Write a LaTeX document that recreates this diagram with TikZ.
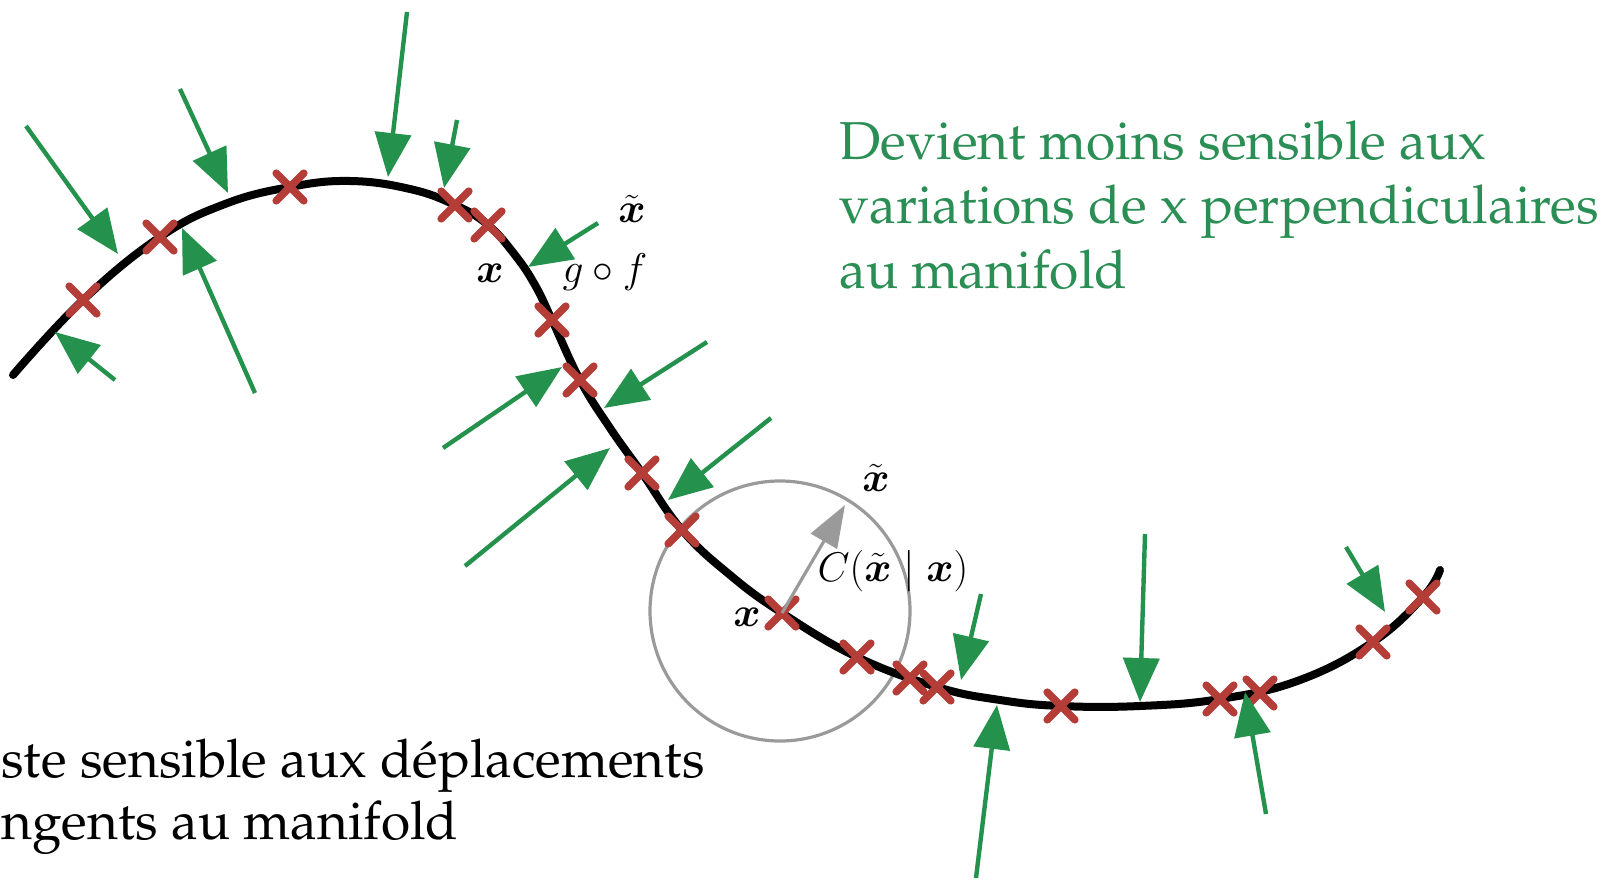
\documentclass[tikz,border=0pt]{standalone}
\usepackage{amsmath,amssymb}
\usepackage[T1,TU]{fontenc}
\usepackage{tikz}
\usetikzlibrary{arrows.meta,shapes.misc}
\newcommand{\palafont}{\fontencoding{T1}\fontfamily{ppl}\selectfont}

\begin{document}
\begin{tikzpicture}[x=0.5pt,y=-0.5pt]
\definecolor{pushGreen}{HTML}{24924D}
\definecolor{noteGreen}{HTML}{2B8E55}
\definecolor{sampleRed}{HTML}{B43D38}
\definecolor{noiseGray}{HTML}{9A9A9A}
\tikzset{
  push/.style={pushGreen,line width=2.2pt,-{Triangle[length=22pt,width=18pt]}},
  sample/.style={cross out,draw=sampleRed,line width=3.8pt,line cap=round,minimum size=10pt,inner sep=0pt},
  lab/.style={inner sep=0pt,font=\fontsize{19.5}{23}\selectfont}
}
\useasboundingbox (0,0) rectangle (1611,882);
\draw[noiseGray,line width=1.6pt] (780,611) circle (130);
\draw[line width=4pt,line cap=round] plot[smooth,tension=0.7] coordinates {
  (13,375) (83,300) (160,237) (225,204) (290,187) (350,181) (410,189) (455,205)
  (488,225) (515,255) (535,285) (552,320) (580,380) (610,428) (642,473) (682,530)
  (730,575) (782,613) (857,657) (937,687) (1000,700) (1061,706) (1140,706) (1220,699)
  (1300,680) (1373,642) (1423,597) (1440,570)};
\foreach \x/\y [count=\i] in {83/300,160/237,290/187,455/205,488/225,552/320,580/380,
  642/473,682/530,782/613,857/657,910/678,937/687,1061/706,1220/699,1260/693,1373/642,1423/597}
  \node[sample] (s\i) at (\x,\y) {};
\draw[noiseGray,line width=1.6pt,-{Triangle[length=21pt,width=15pt]}] (s10.center) -- (845,505);
\foreach \sx/\sy/\tx/\ty in {26/126/118/254,180/89/228/193,407/12/388/177,457/120/444/188,
  598/223/528/267,115/380/55/332,255/393/182/228,707/342/604/408,443/448/562/367,
  771/418/668/500,465/566/610/448,981/594/961/680,1145/534/1140/702,976/878/997/705,
  1266/814/1245/692,1346/547/1385/612}
  \draw[push] (\sx,\sy) -- (\tx,\ty);
\node[lab] (xtTop) at (632,209) {$\tilde{\boldsymbol{x}}$};
\node[lab] (xTop) at (490,273) {$\boldsymbol{x}$};
\node[lab] (gf) at (605,272) {$g\circ f$};
\node[lab] (xtLow) at (876,478) {$\tilde{\boldsymbol{x}}$};
\node[lab] (cond) at (893,571) {$C(\tilde{\boldsymbol{x}}\mid\boldsymbol{x})$};
\node[lab] (xLow) at (747,617) {$\boldsymbol{x}$};
\node[noteGreen,anchor=north west,align=left,inner sep=0pt,font=\palafont\fontsize{26.7}{32.3}\selectfont]
  (perpNote) at (839,120) {Devient moins sensible aux\\variations de x perpendiculaires\\au manifold};
\node[anchor=north west,align=left,inner sep=0pt,font=\palafont\fontsize{26.6}{31}\selectfont]
  (tanNote) at (1,739) {ste sensible aux d\'eplacements\\ngents au manifold};
\end{tikzpicture}
\end{document}
